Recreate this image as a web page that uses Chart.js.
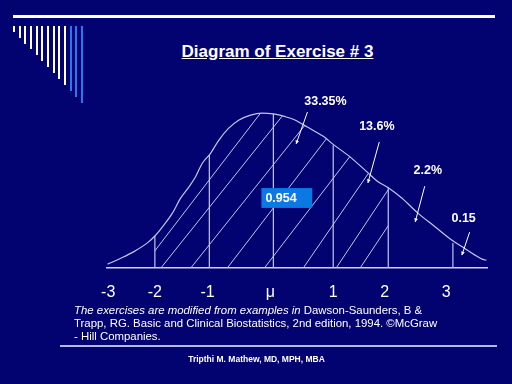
<!DOCTYPE html>
<html>
<head>
<meta charset="utf-8">
<script src="https://cdn.jsdelivr.net/npm/chart.js@4.4.0/dist/chart.umd.min.js"></script>
<style>
  html, body { margin: 0; padding: 0; }
  body {
    width: 512px; height: 384px; overflow: hidden; position: relative;
    background: #020270; color: #fff;
    font-family: "Liberation Sans", Arial, sans-serif;
  }
  #chart { position: absolute; left: 0; top: 0; }
  #topRule { position: absolute; left: 13px; top: 15px; width: 482px; height: 3px; background: #fff; }
  .bar { position: absolute; top: 26px; width: 2px; }
  #title {
    position: absolute; left: 0; top: 42px; width: 555px; text-align: center;
    font-size: 17px; font-weight: bold; line-height: 20px; text-decoration: underline;
  }
  #note { position: absolute; left: 74px; top: 304px; font-size: 11.4px; line-height: 13px; white-space: nowrap; }
  #rule2 { position: absolute; left: 60px; top: 345px; width: 437px; height: 2px; background: #b4b8e6; }
  #author {
    position: absolute; left: 0; top: 354px; width: 513px; text-align: center;
    font-size: 8.5px; font-weight: bold; line-height: 10px;
  }
</style>
</head>
<body>
<div id="topRule"></div>
<div id="bars"></div>
<div id="title">Diagram of Exercise # 3</div>
<canvas id="chart" width="512" height="384"></canvas>
<div id="note"><i>The exercises are modified from examples in</i> Dawson-Saunders, B &amp;<br>Trapp, RG. Basic and Clinical Biostatistics, 2nd edition, 1994. ©McGraw<br>- Hill Companies.</div>
<div id="rule2"></div>
<div id="author">Tripthi M. Mathew, MD, MPH, MBA</div>

<script>
// Hand drawn curve (x in sigma, y as height)
const curveX = [-2.77, -2.55, -2.33, -2.1, -1.98, -1.83, -1.69, -1.55, -1.41, -1.3, -1.19, -1.05,
  -0.91, -0.75, -0.58, -0.38, -0.19, 0.0, 0.2, 0.37, 0.56, 0.84, 1.0, 1.28, 1.56, 1.75, 1.92,
  2.15, 2.42, 2.7, 2.98, 3.2, 3.37, 3.5, 3.56];
const curveY = [0.01, 0.025, 0.042, 0.065, 0.082, 0.11, 0.14, 0.179, 0.208, 0.234, 0.268, 0.294,
  0.328, 0.358, 0.379, 0.392, 0.397, 0.395, 0.388, 0.379, 0.362, 0.337, 0.317, 0.285, 0.247,
  0.221, 0.206, 0.179, 0.14, 0.106, 0.072, 0.05, 0.033, 0.022, 0.02];

// Vertical sigma lines and where they meet the curve
const sigmaLineX = [-1.98, -1.07, 0, 1.0, 1.92, 3.0];
const sigmaLineTop = [0.082, 0.29, 0.395, 0.315, 0.208, 0.064];

// Hatching between -2 and +2: where each stroke meets the baseline, and its rise
const hatchBase = [-2.2, -1.88, -1.38, -0.77, -0.15, 0.5, 1.05, 1.45];
const hatchSlope = [0.2, 0.192, 0.192, 0.2, 0.2, 0.223, 0.231, 0.231];

// Axis labels
const tickPos = [-2.76, -1.98, -1.1, -0.05, 1.0, 1.86, 2.89];
const tickLabels = ["-3", "-2", "-1", "μ", "1", "2", "3"];

// Callouts
const calloutText = ["33.35%", "13.6%", "2.2%", "0.15"];
const calloutAt = [[0.87, 0.428], [1.73, 0.362], [2.58, 0.249], [3.18, 0.128]];
const arrowFrom = [[0.57, 0.40], [1.77, 0.323], [2.53, 0.21], [3.28, 0.092]];
const arrowTo = [[0.38, 0.318], [1.58, 0.218], [2.37, 0.118], [3.15, 0.033]];
const boxText = "0.954";

const LINE = "#c3c6ef";
const FONT = '"Liberation Sans", Arial, sans-serif';

// decorative bars in the top left corner
const bars = document.getElementById("bars");
for (let i = 0; i < 13; i++) {
  const d = document.createElement("div");
  d.className = "bar";
  d.style.left = (13 + 5.65 * i) + "px";
  d.style.height = (5.7 + 5.92 * i) + "px";
  d.style.background = i < 10 ? "#ffffff" : "#2a78f0";
  bars.appendChild(d);
}

// linear lookup on the curve, used to stop the hatching at the curve
function curveAt(x) {
  for (let i = 1; i < curveX.length; i++) {
    if (x <= curveX[i]) {
      const t = (x - curveX[i - 1]) / (curveX[i] - curveX[i - 1]);
      return curveY[i - 1] + t * (curveY[i] - curveY[i - 1]);
    }
  }
  return curveY[curveY.length - 1];
}

const datasets = [];
datasets.push({
  data: curveX.map((x, i) => ({ x: x, y: curveY[i] })),
  borderColor: LINE, borderWidth: 1.2, pointRadius: 0,
  cubicInterpolationMode: "monotone",
});

sigmaLineX.forEach((x, i) => {
  datasets.push({
    data: [{ x: x, y: 0 }, { x: x, y: sigmaLineTop[i] }],
    borderColor: LINE, borderWidth: 1.2, pointRadius: 0,
  });
});

const xLeft = sigmaLineX[0];
const xRight = sigmaLineX[4];
hatchBase.forEach((b, i) => {
  const m = hatchSlope[i];
  const x0 = Math.max(b, xLeft);
  let x1 = x0;
  while (x1 < xRight && m * (x1 - b) < curveAt(x1)) x1 += 0.002;
  x1 = Math.min(x1, xRight);
  datasets.push({
    data: [{ x: x0, y: m * (x0 - b) }, { x: x1, y: m * (x1 - b) }],
    borderColor: LINE, borderWidth: 1, pointRadius: 0,
  });
});

const calloutPlugin = {
  id: "callouts",
  afterDatasetsDraw(chart) {
    const { ctx, scales: { x, y } } = chart;
    ctx.save();
    // blue value box
    const bx0 = x.getPixelForValue(-0.2), bx1 = x.getPixelForValue(0.65);
    const by0 = y.getPixelForValue(0.205), by1 = y.getPixelForValue(0.154);
    ctx.fillStyle = "#0b78e3";
    ctx.fillRect(bx0, by0, bx1 - bx0, by1 - by0);
    ctx.fillStyle = "#fff";
    ctx.font = "bold 12.5px " + FONT;
    ctx.textBaseline = "middle";
    ctx.textAlign = "left";
    ctx.fillText(boxText, bx0 + 4, (by0 + by1) / 2 + 1);

    // percentage labels with arrows
    ctx.textAlign = "center";
    calloutText.forEach((t, i) => {
      ctx.fillText(t, x.getPixelForValue(calloutAt[i][0]), y.getPixelForValue(calloutAt[i][1]));
      const ax = x.getPixelForValue(arrowFrom[i][0]), ay = y.getPixelForValue(arrowFrom[i][1]);
      const tx = x.getPixelForValue(arrowTo[i][0]), ty = y.getPixelForValue(arrowTo[i][1]);
      ctx.strokeStyle = "#fff";
      ctx.lineWidth = 1;
      ctx.beginPath();
      ctx.moveTo(ax, ay);
      ctx.lineTo(tx, ty);
      ctx.stroke();
      const ang = Math.atan2(ty - ay, tx - ax);
      ctx.beginPath();
      ctx.moveTo(tx, ty);
      ctx.lineTo(tx - 4 * Math.cos(ang - 0.5), ty - 4 * Math.sin(ang - 0.5));
      ctx.lineTo(tx - 4 * Math.cos(ang + 0.5), ty - 4 * Math.sin(ang + 0.5));
      ctx.closePath();
      ctx.fill();
    });
    ctx.restore();
  },
};

new Chart(document.getElementById("chart"), {
  type: "line",
  data: { datasets: datasets },
  options: {
    responsive: false,
    animation: false,
    events: [],
    layout: { padding: { left: 107, right: 25, top: 73, bottom: 76 } },
    plugins: { legend: { display: false }, tooltip: { enabled: false } },
    scales: {
      x: {
        type: "linear",
        min: -2.78,
        max: 3.57,
        grid: { display: false, drawTicks: false },
        border: { display: true, color: "#cfd1f3", width: 1.5 },
        afterBuildTicks: (s) => { s.ticks = tickPos.map((v) => ({ value: v })); },
        afterFit: (s) => { s.height = 40; },
        ticks: {
          autoSkip: false,
          maxRotation: 0,
          color: "#fff",
          padding: 15,
          font: { family: FONT, size: 16 },
          callback: (v, i) => tickLabels[i],
        },
      },
      y: { display: false, min: 0, max: 0.5 },
    },
  },
  plugins: [calloutPlugin],
});
</script>
</body>
</html>
